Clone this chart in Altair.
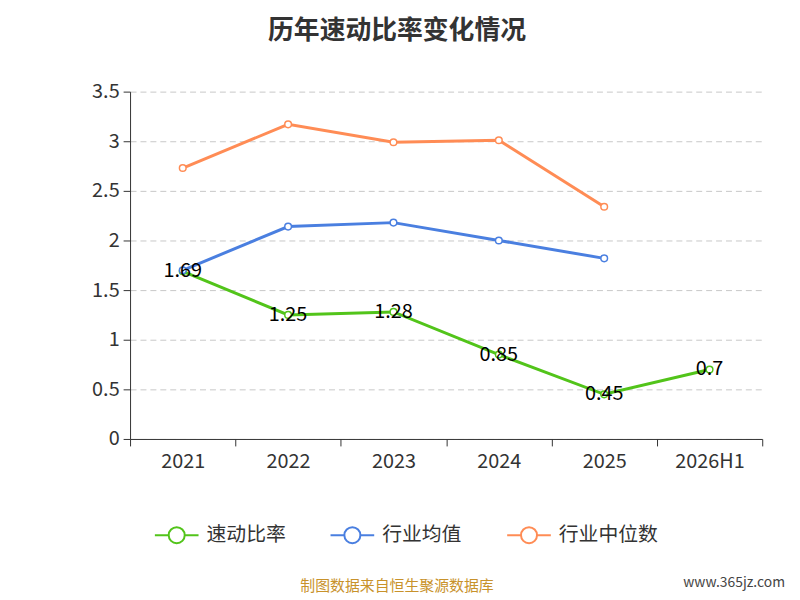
import altair as alt
import pandas as pd

years = ["2021", "2022", "2023", "2024", "2025", "2026H1"]
quick_ratio = [1.69, 1.25, 1.28, 0.85, 0.45, 0.7]
industry_avg = [1.70, 2.14, 2.18, 2.00, 1.82, None]
industry_median = [2.73, 3.17, 2.99, 3.01, 2.34, None]
series_names = ["速动比率", "行业均值", "行业中位数"]
series_colors = ["#52c41a", "#4a7fe0", "#ff8c55"]

rows = []
for name, vals in zip(series_names, [quick_ratio, industry_avg, industry_median]):
    for y, v in zip(years, vals):
        if v is not None:
            rows.append({"year": y, "value": v, "series": name})
df = pd.DataFrame(rows)
labels = df[df["series"] == "速动比率"].copy()
labels["label"] = labels["value"].map(lambda v: f"{v:g}")

font = "Noto Sans CJK SC"
x = alt.X("year:N", sort=years, scale=alt.Scale(domain=years, paddingInner=0, paddingOuter=0),
          axis=alt.Axis(title=None, labelAngle=0, labelFontSize=20, labelColor="#333",
                        tickBand="extent", tickSize=7, domainColor="#333", tickColor="#333",
                        labelPadding=6, labelFont=font, grid=False))
y = alt.Y("value:Q", scale=alt.Scale(domain=[0, 3.5]),
          axis=alt.Axis(title=None, values=[0, 0.5, 1, 1.5, 2, 2.5, 3, 3.5], format="~g",
                        labelFontSize=20, labelColor="#333", tickSize=7, domainColor="#333",
                        tickColor="#333", gridDash=[6, 4], gridColor="#c8c8c8",
                        labelFont=font, labelPadding=4))
cscale = alt.Scale(domain=series_names, range=series_colors)

lines = alt.Chart(df).mark_line(strokeWidth=3).encode(
    x=x, y=y, color=alt.Color("series:N", scale=cscale, legend=None), detail="series:N")
pts = alt.Chart(df).mark_point(filled=False, fill="white", fillOpacity=1, size=45, strokeWidth=1.5).encode(
    x=x, y=y, color=alt.Color("series:N", scale=cscale, legend=None))
text = alt.Chart(labels).mark_text(fontSize=20, color="black", baseline="middle", font=font).encode(
    x=x, y=y, text="label:N")

# custom legend (line + hollow circle + label), positioned in pixels
leg = pd.DataFrame({"series": series_names, "px": [25, 202, 380]})
leg["px2"] = leg["px"] + 44
leg["pc"] = leg["px"] + 22
leg["tx"] = leg["px"] + 52
leg_y = 97 + 350
leg_line = alt.Chart(leg).mark_rule(strokeWidth=2).encode(
    x=alt.X("px:Q", scale=None), x2="px2:Q", y=alt.value(leg_y),
    color=alt.Color("series:N", scale=cscale, legend=None))
leg_pt = alt.Chart(leg).mark_point(filled=False, fill="white", fillOpacity=1, size=260, strokeWidth=2).encode(
    x=alt.X("pc:Q", scale=None), y=alt.value(leg_y),
    color=alt.Color("series:N", scale=cscale, legend=None))
leg_tx = alt.Chart(leg).mark_text(fontSize=20, color="#333", align="left", baseline="middle", font=font).encode(
    x=alt.X("tx:Q", scale=None), y=alt.value(leg_y), text="series:N")

title = alt.Chart(pd.DataFrame({"t": ["历年速动比率变化情况"]})).mark_text(
    fontSize=26, fontWeight="bold", color="#333", font=font).encode(
    x=alt.value(269), y=alt.value(-61), text="t:N")
footer = alt.Chart(pd.DataFrame({"t": ["制图数据来自恒生聚源数据库"]})).mark_text(
    fontSize=15, color="#c8922b", font=font).encode(
    x=alt.value(269), y=alt.value(148 + 350), text="t:N")
mark = alt.Chart(pd.DataFrame({"t": ["www.365jz.com"]})).mark_text(
    fontSize=14, color="#444", font=font, align="right").encode(
    x=alt.value(660), y=alt.value(145 + 350), text="t:N")

chart = (lines + pts + text + leg_line + leg_pt + leg_tx + title + footer + mark).properties(
    width=637, height=350, autosize=alt.AutoSizeParams(type="none"),
    padding={"left": 123, "top": 82, "right": 30, "bottom": 160},
).configure_view(stroke=None)

chart.save("out.html", embed_options={"renderer": "svg", "actions": False})
